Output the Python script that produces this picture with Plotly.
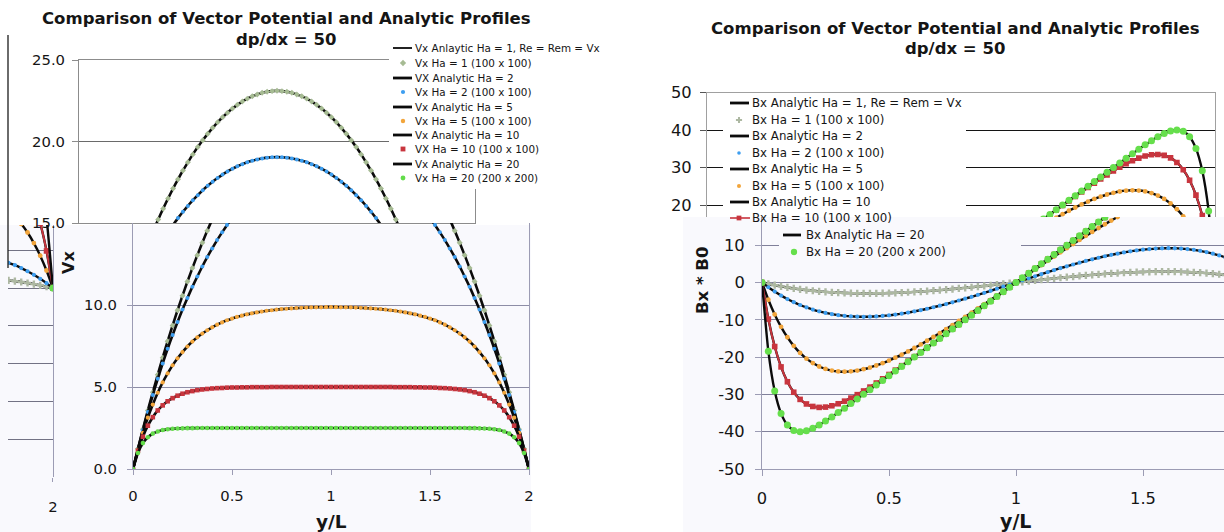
import plotly.graph_objects as go

W, H = 1224, 532

# ---------------------------------------------------------------- data
y_over_L = [0.000, 0.025, 0.050, 0.075, 0.100, 0.125, 0.150, 0.175, 0.200, 0.225,
            0.250, 0.275, 0.300, 0.325, 0.350, 0.375, 0.400, 0.425, 0.450, 0.475,
            0.500, 0.525, 0.550, 0.575, 0.600, 0.625, 0.650, 0.675, 0.700, 0.725,
            0.750, 0.775, 0.800, 0.825, 0.850, 0.875, 0.900, 0.925, 0.950, 0.975,
            1.000, 1.025, 1.050, 1.075, 1.100, 1.125, 1.150, 1.175, 1.200, 1.225,
            1.250, 1.275, 1.300, 1.325, 1.350, 1.375, 1.400, 1.425, 1.450, 1.475,
            1.500, 1.525, 1.550, 1.575, 1.600, 1.625, 1.650, 1.675, 1.700, 1.725,
            1.750, 1.775, 1.800, 1.825, 1.850, 1.875, 1.900, 1.925, 1.950, 1.975,
            2.000]

# velocity profiles Vx(y/L)
vx_ha1 = [0.00, 1.23, 2.42, 3.57, 4.68, 5.75, 6.79, 7.79, 8.75, 9.68,
          10.57, 11.43, 12.25, 13.04, 13.80, 14.52, 15.22, 15.88, 16.51, 17.11,
          17.68, 18.22, 18.72, 19.21, 19.66, 20.08, 20.47, 20.84, 21.18, 21.49,
          21.77, 22.02, 22.25, 22.45, 22.63, 22.77, 22.89, 22.99, 23.05, 23.09,
          23.11, 23.09, 23.05, 22.99, 22.89, 22.77, 22.63, 22.45, 22.25, 22.02,
          21.77, 21.49, 21.18, 20.84, 20.47, 20.08, 19.66, 19.21, 18.72, 18.22,
          17.68, 17.11, 16.51, 15.88, 15.22, 14.52, 13.80, 13.04, 12.25, 11.43,
          10.57, 9.68, 8.75, 7.79, 6.79, 5.75, 4.68, 3.57, 2.42, 1.23,
          0.00]
vx_ha2 = [0.00, 1.22, 2.37, 3.47, 4.51, 5.50, 6.44, 7.33, 8.17, 8.96,
          9.72, 10.43, 11.11, 11.74, 12.35, 12.92, 13.45, 13.96, 14.43, 14.88,
          15.30, 15.69, 16.05, 16.40, 16.71, 17.01, 17.28, 17.53, 17.76, 17.97,
          18.16, 18.33, 18.48, 18.61, 18.73, 18.82, 18.90, 18.96, 19.01, 19.03,
          19.04, 19.03, 19.01, 18.96, 18.90, 18.82, 18.73, 18.61, 18.48, 18.33,
          18.16, 17.97, 17.76, 17.53, 17.28, 17.01, 16.71, 16.40, 16.05, 15.69,
          15.30, 14.88, 14.43, 13.96, 13.45, 12.92, 12.35, 11.74, 11.11, 10.43,
          9.72, 8.96, 8.17, 7.33, 6.44, 5.50, 4.51, 3.47, 2.37, 1.22,
          0.00]
vx_ha5 = [0.00, 1.18, 2.21, 3.13, 3.93, 4.65, 5.28, 5.83, 6.32, 6.75,
          7.13, 7.47, 7.77, 8.03, 8.26, 8.46, 8.64, 8.80, 8.94, 9.07,
          9.17, 9.27, 9.35, 9.43, 9.49, 9.55, 9.60, 9.65, 9.68, 9.72,
          9.75, 9.77, 9.79, 9.81, 9.83, 9.84, 9.85, 9.86, 9.86, 9.87,
          9.87, 9.87, 9.86, 9.86, 9.85, 9.84, 9.83, 9.81, 9.79, 9.77,
          9.75, 9.72, 9.68, 9.65, 9.60, 9.55, 9.49, 9.43, 9.35, 9.27,
          9.17, 9.07, 8.94, 8.80, 8.64, 8.46, 8.26, 8.03, 7.77, 7.47,
          7.13, 6.75, 6.32, 5.83, 5.28, 4.65, 3.93, 3.13, 2.21, 1.18,
          0.00]
vx_ha10 = [0.00, 1.11, 1.97, 2.64, 3.16, 3.57, 3.88, 4.13, 4.32, 4.47,
           4.59, 4.68, 4.75, 4.81, 4.85, 4.88, 4.91, 4.93, 4.94, 4.96,
           4.97, 4.97, 4.98, 4.98, 4.99, 4.99, 4.99, 4.99, 5.00, 5.00,
           5.00, 5.00, 5.00, 5.00, 5.00, 5.00, 5.00, 5.00, 5.00, 5.00,
           5.00, 5.00, 5.00, 5.00, 5.00, 5.00, 5.00, 5.00, 5.00, 5.00,
           5.00, 5.00, 5.00, 4.99, 4.99, 4.99, 4.99, 4.98, 4.98, 4.97,
           4.97, 4.96, 4.94, 4.93, 4.91, 4.88, 4.85, 4.81, 4.75, 4.68,
           4.59, 4.47, 4.32, 4.13, 3.88, 3.57, 3.16, 2.64, 1.97, 1.11,
           0.00]
vx_ha20 = [0.00, 0.98, 1.58, 1.94, 2.16, 2.29, 2.38, 2.42, 2.45, 2.47,
           2.48, 2.49, 2.49, 2.50, 2.50, 2.50, 2.50, 2.50, 2.50, 2.50,
           2.50, 2.50, 2.50, 2.50, 2.50, 2.50, 2.50, 2.50, 2.50, 2.50,
           2.50, 2.50, 2.50, 2.50, 2.50, 2.50, 2.50, 2.50, 2.50, 2.50,
           2.50, 2.50, 2.50, 2.50, 2.50, 2.50, 2.50, 2.50, 2.50, 2.50,
           2.50, 2.50, 2.50, 2.50, 2.50, 2.50, 2.50, 2.50, 2.50, 2.50,
           2.50, 2.50, 2.50, 2.50, 2.50, 2.50, 2.50, 2.50, 2.49, 2.49,
           2.48, 2.47, 2.45, 2.42, 2.38, 2.29, 2.16, 1.94, 1.58, 0.98,
           0.00]

# induced field profiles Bx * B0 (y/L)
bx_ha1 = [0.00, -0.38, -0.72, -1.04, -1.33, -1.59, -1.82, -2.03, -2.21, -2.38,
          -2.51, -2.63, -2.73, -2.80, -2.86, -2.89, -2.91, -2.92, -2.90, -2.87,
          -2.83, -2.77, -2.70, -2.62, -2.52, -2.42, -2.30, -2.18, -2.04, -1.90,
          -1.75, -1.60, -1.43, -1.27, -1.09, -0.92, -0.74, -0.56, -0.37, -0.19,
          0.00, 0.19, 0.37, 0.56, 0.74, 0.92, 1.09, 1.27, 1.43, 1.60,
          1.75, 1.90, 2.04, 2.18, 2.30, 2.42, 2.52, 2.62, 2.70, 2.77,
          2.83, 2.87, 2.90, 2.92, 2.91, 2.89, 2.86, 2.80, 2.73, 2.63,
          2.51, 2.38, 2.21, 2.03, 1.82, 1.59, 1.33, 1.04, 0.72, 0.38,
          0.00]
bx_ha2 = [0.00, -1.28, -2.44, -3.50, -4.44, -5.28, -6.03, -6.68, -7.25, -7.74,
          -8.15, -8.48, -8.75, -8.95, -9.09, -9.17, -9.19, -9.16, -9.09, -8.96,
          -8.80, -8.59, -8.35, -8.07, -7.76, -7.41, -7.04, -6.64, -6.22, -5.78,
          -5.32, -4.83, -4.34, -3.83, -3.30, -2.77, -2.22, -1.67, -1.12, -0.56,
          0.00, 0.56, 1.12, 1.67, 2.22, 2.77, 3.30, 3.83, 4.34, 4.83,
          5.32, 5.78, 6.22, 6.64, 7.04, 7.41, 7.76, 8.07, 8.35, 8.59,
          8.80, 8.96, 9.09, 9.16, 9.19, 9.17, 9.09, 8.95, 8.75, 8.48,
          8.15, 7.74, 7.25, 6.68, 6.03, 5.28, 4.44, 3.50, 2.44, 1.28,
          0.00]
bx_ha5 = [0.00, -4.63, -8.56, -11.89, -14.68, -16.99, -18.89, -20.41, -21.61, -22.52,
          -23.18, -23.62, -23.85, -23.92, -23.82, -23.60, -23.25, -22.80, -22.25, -21.62,
          -20.92, -20.16, -19.34, -18.47, -17.56, -16.60, -15.62, -14.61, -13.57, -12.50,
          -11.42, -10.32, -9.21, -8.08, -6.95, -5.80, -4.65, -3.49, -2.33, -1.17,
          0.00, 1.17, 2.33, 3.49, 4.65, 5.80, 6.95, 8.08, 9.21, 10.32,
          11.42, 12.50, 13.57, 14.61, 15.62, 16.60, 17.56, 18.47, 19.34, 20.16,
          20.92, 21.62, 22.25, 22.80, 23.25, 23.60, 23.82, 23.92, 23.85, 23.62,
          23.18, 22.52, 21.61, 20.41, 18.89, 16.99, 14.68, 11.89, 8.56, 4.63,
          0.00]
bx_ha10 = [0.00, -9.81, -17.17, -22.63, -26.61, -29.42, -31.34, -32.56, -33.23, -33.48,
           -33.40, -33.05, -32.51, -31.81, -30.99, -30.07, -29.08, -28.04, -26.94, -25.82,
           -24.66, -23.49, -22.30, -21.09, -19.88, -18.65, -17.42, -16.19, -14.95, -13.71,
           -12.47, -11.23, -9.98, -8.74, -7.49, -6.24, -4.99, -3.75, -2.50, -1.25,
           0.00, 1.25, 2.50, 3.75, 4.99, 6.24, 7.49, 8.74, 9.98, 11.23,
           12.47, 13.71, 14.95, 16.19, 17.42, 18.65, 19.88, 21.09, 22.30, 23.49,
           24.66, 25.82, 26.94, 28.04, 29.08, 30.07, 30.99, 31.81, 32.51, 33.05,
           33.40, 33.48, 33.23, 32.56, 31.34, 29.42, 26.61, 22.63, 17.17, 9.81,
           0.00]
bx_ha20 = [0.00, -18.42, -29.11, -35.09, -38.23, -39.65, -40.01, -39.74, -39.08, -38.20,
           -37.16, -36.05, -34.88, -33.68, -32.45, -31.22, -29.98, -28.74, -27.49, -26.25,
           -25.00, -23.75, -22.50, -21.25, -20.00, -18.75, -17.50, -16.25, -15.00, -13.75,
           -12.50, -11.25, -10.00, -8.75, -7.50, -6.25, -5.00, -3.75, -2.50, -1.25,
           0.00, 1.25, 2.50, 3.75, 5.00, 6.25, 7.50, 8.75, 10.00, 11.25,
           12.50, 13.75, 15.00, 16.25, 17.50, 18.75, 20.00, 21.25, 22.50, 23.75,
           25.00, 26.25, 27.49, 28.74, 29.98, 31.22, 32.45, 33.68, 34.88, 36.05,
           37.16, 38.20, 39.08, 39.74, 40.01, 39.65, 38.23, 35.09, 29.11, 18.42,
           0.00]

hartmann = ["1", "2", "5", "10", "20"]
vx_profiles = {"1": vx_ha1, "2": vx_ha2, "5": vx_ha5, "10": vx_ha10, "20": vx_ha20}
bx_profiles = {"1": bx_ha1, "2": bx_ha2, "5": bx_ha5, "10": bx_ha10, "20": bx_ha20}

vx_legend = ["Vx Anlaytic Ha = 1, Re = Rem = Vx", "Vx Ha = 1 (100 x 100)",
             "VX Analytic Ha = 2", "Vx Ha = 2 (100 x 100)",
             "Vx Analytic Ha = 5", "Vx Ha = 5 (100 x 100)",
             "Vx Analytic Ha = 10", "VX Ha = 10 (100 x 100)",
             "Vx Analytic Ha = 20", "Vx Ha = 20 (200 x 200)"]
bx_legend = ["Bx Analytic Ha = 1, Re = Rem = Vx", "Bx Ha = 1 (100 x 100)",
             "Bx Analytic Ha = 2", "Bx Ha = 2 (100 x 100)",
             "Bx Analytic Ha = 5", "Bx Ha = 5 (100 x 100)",
             "Bx Analytic Ha = 10", "Bx Ha = 10 (100 x 100)",
             "Bx Analytic Ha = 20", "Bx Ha = 20 (200 x 200)"]

title_main = "Comparison of Vector Potential and Analytic Profiles"
title_sub = "dp/dx = 50"

# ---------------------------------------------------------------- styles
FONT = "DejaVu Sans"
INK = "#151515"
ANALYTIC = "#0b0b0b"
PANEL_TINT = "#f9f9fd"

vx_marks = {
    "1": dict(symbol="diamond", size=4.6, color="#a6bb93"),
    "2": dict(symbol="circle", size=4.0, color="#3d9ef0"),
    "5": dict(symbol="circle", size=4.2, color="#f2a53b"),
    "10": dict(symbol="square", size=4.6, color="#c8353e"),
    "20": dict(symbol="circle", size=4.6, color="#63dc4a"),
}
bx_marks = {
    "1": dict(symbol="cross", size=6.0, color="#adb8a2"),
    "2": dict(symbol="circle", size=4.2, color="#3d9ef0"),
    "5": dict(symbol="circle", size=4.8, color="#f2a53b"),
    "10": dict(symbol="square", size=5.6, color="#c8353e", line=2.0),
    "20": dict(symbol="circle", size=7.0, color="#66df4c"),
}

fig = go.Figure()


def add_profiles(profiles, marks, xa, ya, width):
    """Analytic curve (black) overlaid by the numerical points for every Ha."""
    for ha in hartmann:
        vals = profiles[ha]
        fig.add_trace(go.Scatter(
            x=y_over_L, y=vals, mode="lines", xaxis=xa, yaxis=ya,
            line=dict(color=ANALYTIC, width=width, shape="spline", smoothing=0.5),
            hoverinfo="skip"))
        m = marks[ha]
        has_line = "line" in m
        fig.add_trace(go.Scatter(
            x=y_over_L, y=vals, mode="lines+markers" if has_line else "markers",
            xaxis=xa, yaxis=ya,
            marker=dict(symbol=m["symbol"], size=m["size"], color=m["color"],
                        line=dict(width=0)),
            line=dict(color=m["color"], width=m.get("line", 0), shape="spline",
                      smoothing=0.5),
            hoverinfo="skip"))


# panels, in drawing order
add_profiles(bx_profiles, bx_marks, "x", "y", 2.4)     # narrow strip at the far left
add_profiles(vx_profiles, vx_marks, "x2", "y2", 2.6)   # Vx, upper part
add_profiles(vx_profiles, vx_marks, "x3", "y3", 2.6)   # Vx, lower part
add_profiles(bx_profiles, bx_marks, "x4", "y4", 2.4)   # Bx, upper part
add_profiles(bx_profiles, bx_marks, "x5", "y5", 2.4)   # Bx, lower part


# ---------------------------------------------------------------- overlay (pixel space)
def px_box(x0, y0, x1, y1, color):
    fig.add_trace(go.Scatter(
        x=[x0, x1, x1, x0, x0], y=[y0, y0, y1, y1, y0], mode="lines",
        fill="toself", fillcolor=color, line=dict(width=0, color=color),
        xaxis="x6", yaxis="y6", hoverinfo="skip"))


def px_line(x0, x1, y, color, width):
    fig.add_trace(go.Scatter(
        x=[x0, x1], y=[y, y], mode="lines", line=dict(color=color, width=width),
        xaxis="x6", yaxis="y6", hoverinfo="skip"))


def px_mark(x, y, m, scale=1.0):
    fig.add_trace(go.Scatter(
        x=[x], y=[y], mode="markers",
        marker=dict(symbol=m["symbol"], size=m["size"] * scale, color=m["color"],
                    line=dict(width=0)),
        xaxis="x6", yaxis="y6", hoverinfo="skip"))


annotations = []


def px_text(x, y, text, size, bold=False, anchor="left", angle=0):
    annotations.append(dict(
        x=x, y=y, xref="x6", yref="y6", text=f"<b>{text}</b>" if bold else text,
        showarrow=False, xanchor=anchor, yanchor="middle", textangle=angle,
        font=dict(family=FONT, size=size, color=INK)))


# legend backgrounds
px_box(389, 38, 606, 189, "white")
px_box(723, 95, 966, 216.5, "white")
px_box(779, 218, 1021, 262, PANEL_TINT)

# Vx legend
vx_rows = [48, 63, 78, 92, 107, 121, 135, 149, 164, 178]
for i, (label, yy) in enumerate(zip(vx_legend, vx_rows)):
    ha = hartmann[i // 2]
    if i % 2 == 0:
        px_line(393, 412, yy, ANALYTIC, 1.8 if i == 0 else 2.8)
    else:
        px_mark(403, yy, vx_marks[ha], 1.05)
    px_text(413, yy, label, 10.4)

# Bx legend (upper block)
bx_rows = [103, 120, 136, 153, 169, 186, 202, 218]
for i, (label, yy) in enumerate(zip(bx_legend[:8], bx_rows)):
    ha = hartmann[i // 2]
    if i % 2 == 0:
        px_line(730, 749, yy, ANALYTIC, 2.8)
    else:
        if "line" in bx_marks[ha]:
            px_line(730, 750, yy, bx_marks[ha]["color"], 1.6)
        px_mark(739, yy, bx_marks[ha], 0.85)
    px_text(750, yy, label, 11.8)

# Bx legend (lower block)
px_line(783, 801, 235, ANALYTIC, 2.8)
px_text(804, 235, bx_legend[8], 11.8)
px_mark(794, 252, bx_marks["20"], 0.9)
px_text(804, 252, bx_legend[9], 11.8)

# frame edge at the far left
fig.add_trace(go.Scatter(x=[8, 8], y=[35, 268], mode="lines",
                         line=dict(color="#1c1c1c", width=1.3),
                         xaxis="x6", yaxis="y6", hoverinfo="skip"))

# titles and axis titles
px_text(286, 18, title_main, 16.5, bold=True, anchor="center")
px_text(286, 39, title_sub, 16.5, bold=True, anchor="center")
px_text(955, 28, title_main, 16.5, bold=True, anchor="center")
px_text(955, 48, title_sub, 16.5, bold=True, anchor="center")
px_text(68, 263, "Vx", 16, bold=True, anchor="center", angle=-90)
px_text(331, 521, "y/L", 18.5, bold=True, anchor="center")
px_text(1015, 521, "y/L", 19, bold=True, anchor="center")
px_text(702, 281, "Bx * B0", 16.5, bold=True, anchor="center", angle=-90)


# ---------------------------------------------------------------- axes
def dom_x(a, b):
    return [a / W, b / W]


def dom_y(top, bottom):
    return [1 - bottom / H, 1 - top / H]


tick_font_l = dict(family=FONT, size=14.8, color=INK)
tick_font_r = dict(family=FONT, size=16.3, color=INK)
GRID_L = "#8d8da6"
AXIS_L = "#9c9cb4"

layout_axes = dict(
    # narrow strip (Bx near y/L = 2)
    xaxis=dict(domain=dom_x(8, 53), range=[2 - 45 / 254, 2.0005], anchor="y",
               tickvals=[2], ticktext=["2"], ticks="outside", ticklen=4,
               tickcolor=AXIS_L, showgrid=False, zeroline=False, showline=False,
               tickfont=tick_font_l, ticklabelstandoff=12),
    yaxis=dict(domain=dom_y(225, 477), range=[-50, 16.67], anchor="x", side="right",
               tickvals=[-50, -40, -30, -20, -10, 0, 10], showticklabels=False,
               ticks="", showgrid=True, gridcolor="#727284", gridwidth=1.1,
               zeroline=False, showline=True, linecolor=AXIS_L),
    # Vx upper part
    xaxis2=dict(domain=dom_x(79, 475), range=[0, 2], anchor="y2",
                showticklabels=False, ticks="", showgrid=False, zeroline=False,
                showline=True, mirror=True, linecolor="#8c8c8c"),
    yaxis2=dict(domain=dom_y(60, 223), range=[15, 25], anchor="x2",
                tickvals=[15, 20, 25], ticktext=["15.0", "20.0", "25.0"],
                ticks="outside", ticklen=6, tickcolor="#8c8c8c",
                showgrid=True, gridcolor="#6a6a6a", gridwidth=1.1, zeroline=False,
                showline=True, mirror=True, linecolor="#8c8c8c",
                tickfont=tick_font_l, ticklabelstandoff=4),
    # Vx lower part
    xaxis3=dict(domain=dom_x(133, 529), range=[0, 2], anchor="y3",
                tickvals=[0, 0.5, 1, 1.5, 2], ticktext=["0", "0.5", "1", "1.5", "2"],
                ticks="outside", ticklen=5, tickcolor=AXIS_L, showgrid=False,
                zeroline=False, showline=True, linecolor=AXIS_L,
                tickfont=tick_font_l, ticklabelstandoff=8),
    yaxis3=dict(domain=dom_y(223, 469), range=[0, 15], anchor="x3",
                tickvals=[0, 5, 10], ticktext=["0.0", "5.0", "10.0"],
                ticks="outside", ticklen=5, tickcolor=AXIS_L,
                showgrid=True, gridcolor=GRID_L, gridwidth=1.1, zeroline=False,
                showline=True, mirror=True, linecolor=AXIS_L,
                tickfont=tick_font_l, ticklabelstandoff=7),
    # Bx upper part
    xaxis4=dict(domain=dom_x(707, 1215), range=[0, 2], anchor="y4", side="top",
                showticklabels=False, ticks="", showgrid=False, zeroline=False,
                showline=True, linecolor="#a0a0a0"),
    yaxis4=dict(domain=dom_y(92.5, 217), range=[16.8, 50], anchor="x4",
                tickvals=[20, 30, 40, 50], ticks="outside", ticklen=6,
                tickcolor="#555555", showgrid=True, gridcolor="#141414", gridwidth=1.3,
                zeroline=False, showline=True, mirror=True, linecolor="#a0a0a0",
                tickfont=tick_font_r, ticklabelstandoff=5),
    # Bx lower part
    xaxis5=dict(domain=dom_x(762, 1224), range=[0, 462 / 254], anchor="y5",
                tickvals=[0, 0.5, 1, 1.5], ticktext=["0", "0.5", "1", "1.5"],
                ticks="outside", ticklen=6, tickcolor=AXIS_L, showgrid=False,
                zeroline=False, showline=True, linecolor=AXIS_L,
                tickfont=tick_font_r, ticklabelstandoff=8),
    yaxis5=dict(domain=dom_y(217, 469), range=[-50, 17.56], anchor="x5",
                tickvals=[-50, -40, -30, -20, -10, 0, 10],
                ticktext=["-50", "-40", "-30", "-20", "-10", "0", "10"],
                ticks="outside", ticklen=6, tickcolor=AXIS_L,
                showgrid=True, gridcolor="#80809a", gridwidth=1.1, zeroline=False,
                showline=True, linecolor=AXIS_L,
                tickfont=tick_font_r, ticklabelstandoff=7),
    # pixel-space overlay
    xaxis6=dict(domain=[0, 1], range=[0, W], anchor="y6", visible=False,
                fixedrange=True),
    yaxis6=dict(domain=[0, 1], range=[H, 0], anchor="x6", visible=False,
                fixedrange=True),
)

# axes keep exactly their domains: no automatic margin growth
for ax in layout_axes.values():
    ax["automargin"] = False

# faint tint behind the lower halves of both charts
shapes = [
    dict(type="rect", xref="paper", yref="paper", layer="below",
         x0=0, x1=531 / W, y0=0, y1=1 - 225 / H,
         fillcolor=PANEL_TINT, line=dict(width=0)),
    dict(type="rect", xref="paper", yref="paper", layer="below",
         x0=683 / W, x1=1, y0=0, y1=1 - 217 / H,
         fillcolor=PANEL_TINT, line=dict(width=0)),
]

fig.update_layout(
    template="none",
    width=W, height=H, autosize=False,
    margin=dict(l=0, r=0, t=0, b=0, pad=0, autoexpand=False),
    paper_bgcolor="white", plot_bgcolor="rgba(0,0,0,0)",
    showlegend=False, font=dict(family=FONT, color=INK),
    annotations=annotations, shapes=shapes,
    **layout_axes,
)

fig.write_html("out.html", config={"displayModeBar": False})
